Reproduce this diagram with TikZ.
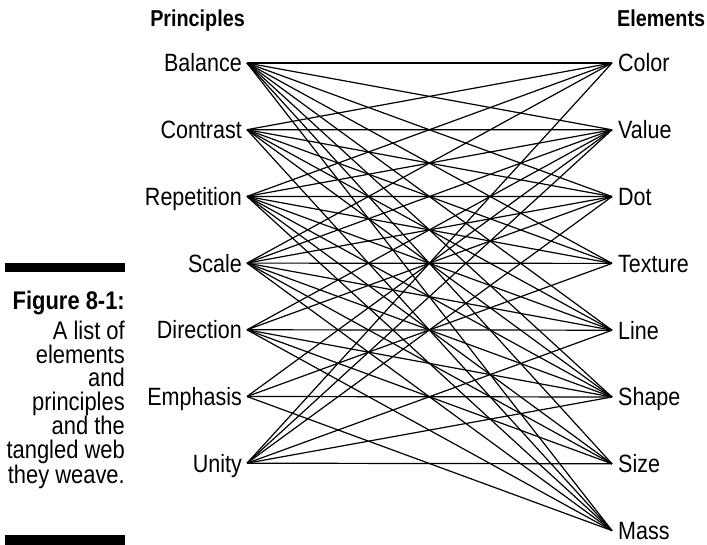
\documentclass[tikz,border=0pt]{standalone}
\usepackage{fontspec}
\setmainfont[FakeStretch=0.86]{Liberation Sans}
\usetikzlibrary{positioning}
\tikzstyle{prin}=[anchor=east,inner xsep=5pt,inner ysep=0pt,text height=17.9pt,text depth=0pt,font=\fontsize{25}{29}\selectfont]
\tikzstyle{elem}=[anchor=west,inner xsep=6pt,inner ysep=0pt,text height=17.9pt,text depth=0pt,font=\fontsize{25}{29}\selectfont]
\tikzstyle{head}=[inner sep=0pt,font=\bfseries\fontsize{23}{27}\selectfont]
\tikzstyle{figcap}=[anchor=north east,inner sep=0pt,align=right,font=\fontsize{25.5}{23.5}\selectfont]
\tikzstyle{web}=[line width=1.2pt]
\tikzstyle{bar}=[fill=black]

\begin{document}
\begin{tikzpicture}[x=1pt,y=-1pt]
\useasboundingbox (0,0) rectangle (707,545);
% headings
\node[head,anchor=base east] (ph) at (245,26.5) {Principles};
\node[head,anchor=base west] (eh) at (617,26.5) {Elements};
% the two columns
\foreach \t [count=\i] in {Balance,Contrast,Repetition,Scale,Direction,Emphasis,Unity}
  \node[prin] (p\i) at (247,{63+66.7*(\i-1)}) {\t};
\foreach \t [count=\i] in {Color,Value,Dot,Texture,Line,Shape,Size,Mass}
  \node[elem] (e\i) at (612,{63+66.8*(\i-1)}) {\t};
% the web
\foreach \a/\b in {1/1,1/2,1/3,1/4,1/5,1/6,1/7,1/8,
                   2/1,2/2,2/3,2/4,2/5,2/6,2/8,
                   3/1,3/2,3/3,3/4,3/5,3/6,3/7,3/8,
                   4/1,4/2,4/3,4/4,4/5,4/6,4/7,4/8,
                   5/2,5/3,5/5,5/6,5/7,5/8,
                   6/2,6/4,6/6,6/8,
                   7/1,7/2,7/3,7/5,7/6,7/7}
  \draw[web] (p\a.east) -- (e\b.west);
% caption
\fill[bar] (5,263) rectangle (125,272);
\node[figcap] (fig) at (125,291) {\textbf{Figure 8-1:}\\[5pt]A list of\\elements\\and\\principles\\and the\\tangled web\\they weave.};
\fill[bar] (5,535) rectangle (125,545);
\end{tikzpicture}
\end{document}
